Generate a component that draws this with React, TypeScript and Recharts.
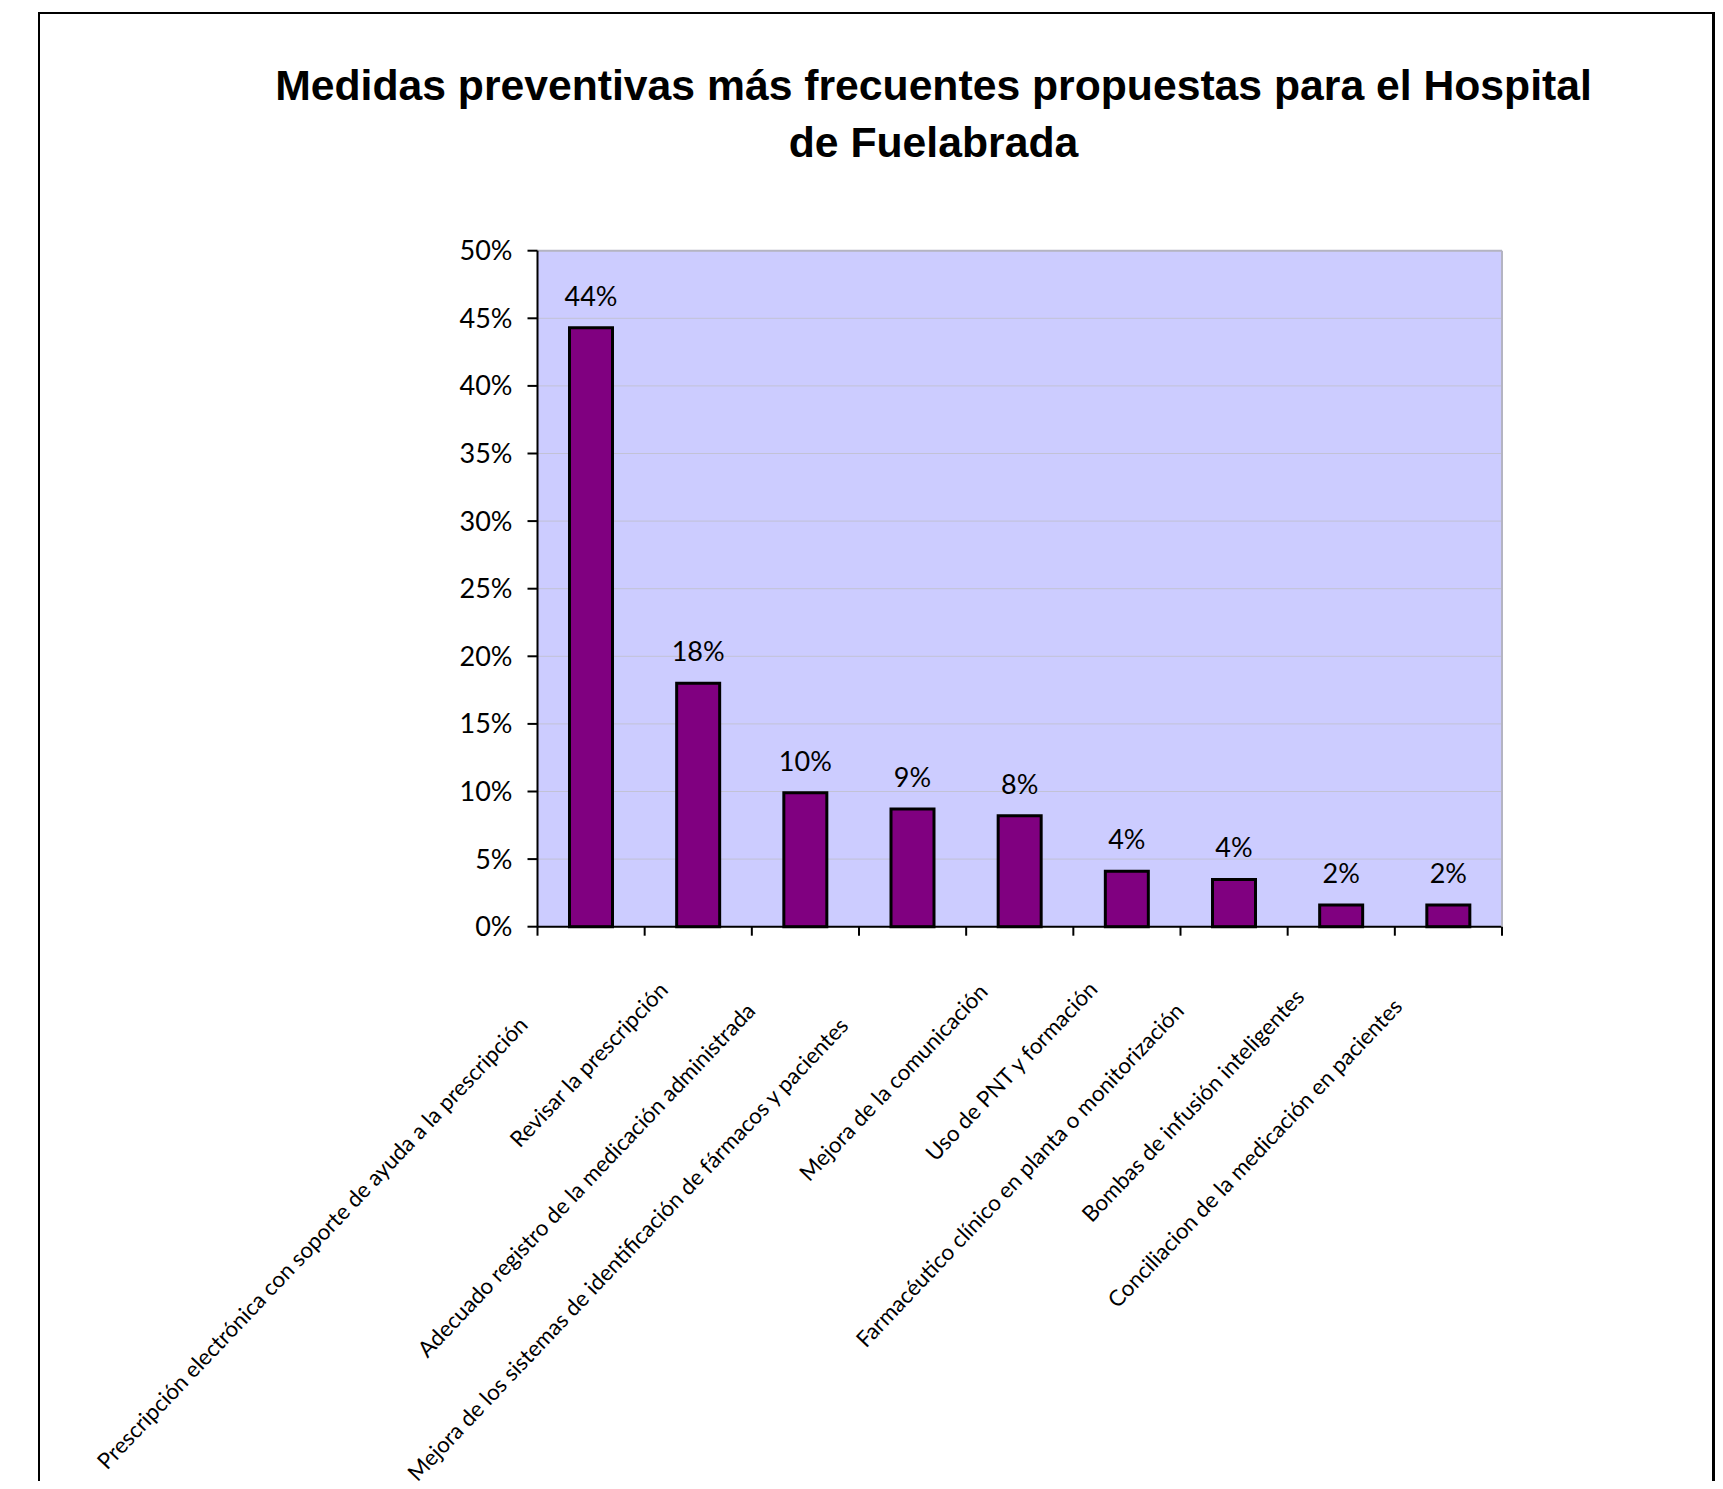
import React from 'react';
import { BarChart, Bar, XAxis, YAxis, CartesianGrid, LabelList, ReferenceLine } from 'recharts';

const categories = [
  'Prescripción electrónica con soporte de ayuda a la prescripción',
  'Revisar la prescripción',
  'Adecuado registro de la medicación administrada',
  'Mejora de los sistemas de identificación de fármacos y pacientes',
  'Mejora de la comunicación',
  'Uso de PNT y formación',
  'Farmacéutico clínico en planta o monitorización',
  'Bombas de infusión inteligentes',
  'Conciliacion de la medicación en pacientes',
];
const values = [44.3, 18.0, 9.9, 8.7, 8.2, 4.1, 3.5, 1.6, 1.6];
const yTicks = [0, 5, 10, 15, 20, 25, 30, 35, 40, 45, 50];
const titleLines = ['Medidas preventivas más frecuentes propuestas para el Hospital', 'de Fuelabrada'];

const data = categories.map((name, i) => ({ name, value: values[i] }));

const CHART_W = 1707;
const CHART_H = 1473;
const MARGIN = { top: 242.7, right: 212, bottom: 0, left: 429.5 };
const Y_AXIS_W = 100;
const RIGHT_AXIS_W = 1;
const PLOT_W = CHART_W - MARGIN.left - MARGIN.right - Y_AXIS_W - RIGHT_AXIS_W;
const HALF_BAND = PLOT_W / categories.length / 2;
const PLOT_BOTTOM = 918.7;
const X_TICK = 9;
const LABEL_ANGLE = -46.5;

const CategoryTick = (props: any) => {
  const { x, y, payload, index } = props;
  const label = String(payload.value);
  const px = x - 18;
  const py = y + 28;
  const dx = -1.2 * label.length;
  return (
    <g>
      <line x1={x - HALF_BAND} x2={x - HALF_BAND} y1={y - X_TICK} y2={y} stroke="#000" strokeWidth={2} />
      {index === categories.length - 1 && (
        <line x1={x + HALF_BAND} x2={x + HALF_BAND} y1={y - X_TICK} y2={y} stroke="#000" strokeWidth={2} />
      )}
      <text
        x={px}
        y={py}
        dx={dx}
        dy={11}
        transform={`rotate(${LABEL_ANGLE} ${px} ${py})`}
        textAnchor="end"
        fontFamily="Lato"
        fontSize={22.3}
        fill="#000"
      >
        {label}
      </text>
    </g>
  );
};

export default function App() {
  return (
    <div style={{ position: 'relative', width: CHART_W, height: CHART_H, overflow: 'hidden', background: '#fff' }}>
      <div
        style={{
          position: 'absolute',
          left: 30,
          top: 4,
          width: 1677,
          height: 1600,
          borderLeft: '2px solid #000',
          borderTop: '2px solid #000',
          borderRight: '3px solid #000',
          boxSizing: 'border-box',
        }}
      />
      <div
        style={{
          position: 'absolute',
          left: 125.5,
          width: 1600,
          top: 48.6,
          textAlign: 'center',
          fontFamily: '"Liberation Sans", Arial, sans-serif',
          fontWeight: 'bold',
          fontSize: 42.7,
          lineHeight: '57px',
          color: '#000',
        }}
      >
        {titleLines.map((t) => (
          <div key={t}>{t}</div>
        ))}
      </div>
      <div style={{ position: 'absolute', left: 0, top: 0 }}>
        <BarChart width={CHART_W} height={CHART_H} data={data} margin={MARGIN}>
          <CartesianGrid
            horizontal={true}
            vertical={false}
            fill="#CCCCFF"
            fillOpacity={1}
            stroke="#C2C2D6"
            strokeWidth={1}
          />
          <XAxis
            dataKey="name"
            type="category"
            interval={0}
            height={CHART_H - PLOT_BOTTOM}
            tickLine={false}
            tickSize={X_TICK}
            tickMargin={0}
            axisLine={{ stroke: '#000', strokeWidth: 2 }}
            tick={<CategoryTick />}
          />
          <YAxis
            domain={[0, 50]}
            ticks={yTicks}
            width={Y_AXIS_W}
            interval={0}
            tickFormatter={(v: number) => `${v}%`}
            tick={{ fill: '#000', fontSize: 27, fontFamily: 'Lato' }}
            tickSize={10}
            tickMargin={15}
            tickLine={{ stroke: '#000', strokeWidth: 2 }}
            axisLine={{ stroke: '#000', strokeWidth: 2 }}
          />
          <YAxis
            yAxisId="right"
            orientation="right"
            domain={[0, 50]}
            width={RIGHT_AXIS_W}
            tick={false}
            tickLine={false}
            axisLine={{ stroke: '#B4B4C2', strokeWidth: 2 }}
          />
          <ReferenceLine y={50} stroke="#B4B4C2" strokeWidth={2} />
          <Bar dataKey="value" fill="#800080" stroke="#000" strokeWidth={3} barSize={43} isAnimationActive={false}>
            <LabelList
              dataKey="value"
              position="top"
              offset={22}
              formatter={(v: any) => `${Math.round(Number(v))}%`}
              fill="#000"
              fontSize={27}
              fontFamily="Lato"
            />
          </Bar>
        </BarChart>
      </div>
    </div>
  );
}
